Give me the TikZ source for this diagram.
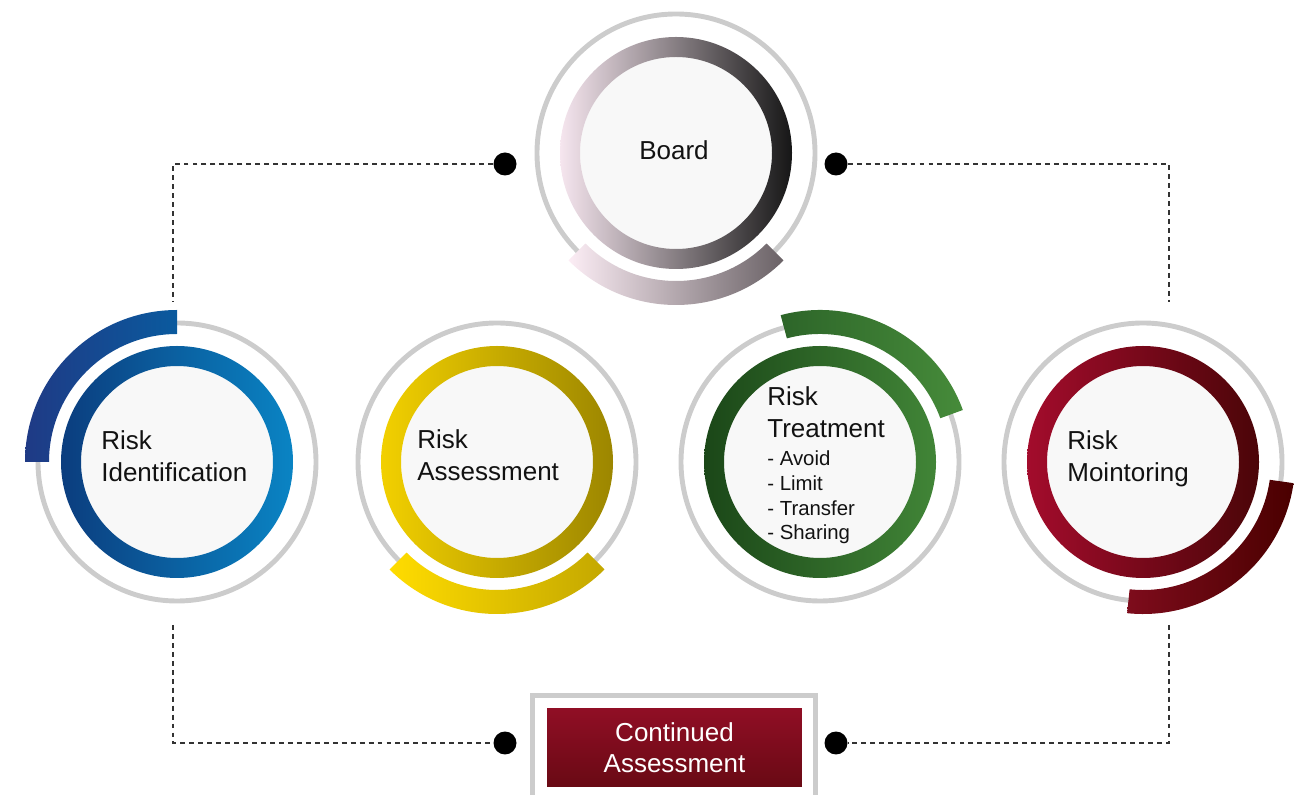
\documentclass[tikz,border=0pt]{standalone}
\usepackage{fontspec}
\setmainfont{Liberation Sans}
\usetikzlibrary{positioning}

\definecolor{discfill}{HTML}{F8F8F8}
\definecolor{ringgray}{HTML}{CCCCCC}
\definecolor{bdL}{HTML}{F6E6EF}
\definecolor{bdR}{HTML}{161616}
\definecolor{bdaL}{HTML}{FCEDF5}
\definecolor{bdaM}{HTML}{F3E3EB}
\definecolor{bdaR}{HTML}{6A6266}
\definecolor{idL}{HTML}{0B3D7E}
\definecolor{idR}{HTML}{0A84C4}
\definecolor{idaL}{HTML}{1F3A85}
\definecolor{idaR}{HTML}{0A5A9E}
\definecolor{asL}{HTML}{F2D000}
\definecolor{asR}{HTML}{9C8600}
\definecolor{asaL}{HTML}{FFDC00}
\definecolor{asaR}{HTML}{C4A800}
\definecolor{trL}{HTML}{1B4718}
\definecolor{trR}{HTML}{418537}
\definecolor{traL}{HTML}{2D6529}
\definecolor{traR}{HTML}{468B3A}
\definecolor{moL}{HTML}{A30C2C}
\definecolor{moR}{HTML}{4B0508}
\definecolor{moaL}{HTML}{7E0C1C}
\definecolor{moaR}{HTML}{4A0000}
\definecolor{boxT}{HTML}{900E25}
\definecolor{boxB}{HTML}{690A14}

\begin{document}
\begin{tikzpicture}[x=0.02cm,y=0.02cm,
    disc/.style={circle,fill=discfill,minimum size=3.84cm,inner sep=0pt},
    ring/.style={draw=ringgray,line width=2.8pt},
    lbl/.style={align=left,font=\fontsize{14.8}{18.7}\selectfont,text=black!93,inner sep=0pt},
    sublbl/.style={align=left,font=\fontsize{11.6}{14.2}\selectfont,text=black!93,inner sep=0pt},
    dot/.style={circle,fill=black,minimum size=0.46cm,inner sep=0pt},
    link/.style={draw=black!80,line width=0.6pt,dash pattern=on 2.8pt off 2.3pt},
    contbox/.style={rectangle,top color=boxT,bottom color=boxB,minimum width=5.1cm,
        minimum height=1.58cm,align=center,text=white,
        font=\fontsize{14.8}{17.6}\selectfont}]

    \useasboundingbox (0,0) rectangle (1306,795);

    % the five discs
    \node[disc] (Board) at (676,642) {};
    \node[disc] (Ident) at (177,333) {};
    \node[disc] (Assess) at (497,333) {};
    \node[disc] (Treat) at (820,333) {};
    \node[disc] (Monit) at (1143,333) {};

    % coloured rings and grey outer rings
    \foreach \n/\a/\b in {Board/bdL/bdR, Ident/idL/idR, Assess/asL/asR,
        Treat/trL/trR, Monit/moL/moR}
    {
        \shade[left color=\a,right color=\b,even odd rule]
            (\n.center) circle (116) (\n.center) circle (96);
        \draw[ring] (\n.center) circle (139);
    }

    % partial arcs
    \foreach \n/\s/\e/\a/\m/\b in {Board/-135/-45/bdaL/bdaM/bdaR,
        Ident/90/180/idaL/idaL!50!idaR/idaR,
        Assess/-135/-45/asaL/asaL/asaR,
        Treat/20/105/traL/traL!50!traR/traR,
        Monit/-96/-8/moaL/moaL!50!moaR/moaR}
    {
        \shade[shift={(\n.center)},left color=\a,middle color=\m,right color=\b]
            (\s:128) arc[start angle=\s,end angle=\e,radius=128]
            -- (\e:152) arc[start angle=\e,end angle=\s,radius=152] -- cycle;
    }

    % labels (base = last line)
    \node[lbl,anchor=base] (BoardT) at (674,635) {Board};
    \node[lbl,anchor=base west] (IdentT) at (101,313) {Risk\\Identification};
    \node[lbl,anchor=base west] (AssessT) at (417,314) {Risk\\Assessment};
    \node[lbl,anchor=base west] (TreatT) at (767,357) {Risk\\Treatment};
    \node[sublbl,anchor=base west] (TreatL) at (767,255)
        {- Avoid\\- Limit\\- Transfer\\- Sharing};
    \node[lbl,anchor=base west] (MonitT) at (1067,313) {Risk\\Mointoring};

    % continued assessment box
    \draw[ringgray,line width=2.8pt] (532.5,-5) |- (815.5,99.5) -- (815.5,-5);
    \node[contbox] (Cont) at (674.5,47.5) {Continued\\Assessment};

    % dots and dashed connectors
    \node[dot] (DL) at (505,631) {};
    \node[dot] (DR) at (836,631) {};
    \node[dot] (DBL) at (505,52) {};
    \node[dot] (DBR) at (836,52) {};
    \coordinate (IdTop) at (173,493);
    \coordinate (IdBot) at (173,170);
    \coordinate (MoTop) at (1169,493);
    \coordinate (MoBot) at (1169,170);

    \draw[link] (DL) -| (IdTop);
    \draw[link] (DR) -| (MoTop);
    \draw[link] (IdBot) |- (DBL);
    \draw[link] (MoBot) |- (DBR);
\end{tikzpicture}
\end{document}
